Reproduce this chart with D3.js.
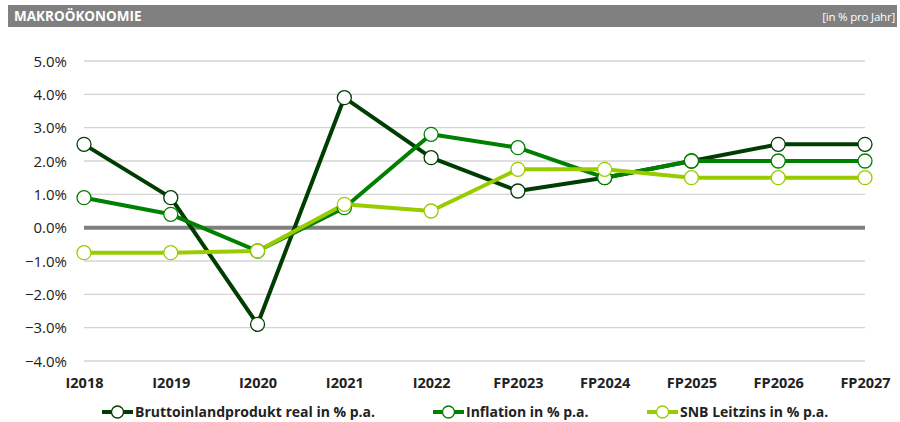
<!DOCTYPE html>
<html><head><meta charset="utf-8">
<script src="https://cdn.jsdelivr.net/npm/d3@7"></script>
<style>body{margin:0;background:#fff}svg{display:block}</style>
</head><body>
<svg id="c" width="900" height="422"></svg>
<script>
const categories = ["I2018","I2019","I2020","I2021","I2022","FP2023","FP2024","FP2025","FP2026","FP2027"];
const bip = [2.5, 0.9, -2.9, 3.9, 2.1, 1.1, 1.5, 2.0, 2.5, 2.5];
const inflation = [0.9, 0.4, -0.7, 0.6, 2.8, 2.4, 1.5, 2.0, 2.0, 2.0];
const snb = [-0.75, -0.75, -0.7, 0.7, 0.5, 1.75, 1.75, 1.5, 1.5, 1.5];
const yTicks = [5, 4, 3, 2, 1, 0, -1, -2, -3, -4];
const seriesNames = ["Bruttoinlandprodukt real in % p.a.", "Inflation in % p.a.", "SNB Leitzins in % p.a."];
const title = "MAKROÖKONOMIE";
const unitLabel = "[in % pro Jahr]";

const colors = ["#003d00", "#008000", "#99cc00"];
const series = [bip, inflation, snb];
const font = "'Open Sans', 'Liberation Sans', sans-serif";

const svg = d3.select("#c");
// header
svg.append("rect").attr("x",8).attr("y",5).attr("width",889).attr("height",22).attr("fill","#808080");
svg.append("text").attr("x",14).attr("y",21).attr("fill","#fff").attr("font-family",font)
  .attr("font-weight","bold").attr("font-size",13.5).text(title);
svg.append("text").attr("x",895).attr("y",20.5).attr("text-anchor","end").attr("fill","#fff")
  .attr("font-family",font).attr("font-size",11.5).attr("letter-spacing",-0.2).text(unitLabel);

const x = d3.scalePoint().domain(categories).range([84, 865]).padding(0);
const y = d3.scaleLinear().domain([-4, 5]).range([361, 61]);

// gridlines
svg.append("g").selectAll("line").data(yTicks.filter(d=>d!==0)).join("line")
  .attr("x1",84).attr("x2",865).attr("y1",d=>y(d)).attr("y2",d=>y(d))
  .attr("stroke","#d4d4d4").attr("stroke-width",1.3);

// y axis labels
const yAxis = d3.axisLeft(y).tickValues(yTicks).tickFormat(d=>d3.format(".1f")(d)+"%").tickSize(0).tickPadding(0);
const ga = svg.append("g").attr("transform","translate(67,0)").call(yAxis);
ga.select(".domain").remove();
ga.selectAll("text").attr("font-family",font).attr("font-size",15).attr("fill","#222").attr("dy","0.35em");

// zero line
svg.append("line").attr("x1",84).attr("x2",865).attr("y1",y(0)).attr("y2",y(0))
  .attr("stroke","#808080").attr("stroke-width",4);

// x axis labels
const xAxis = d3.axisBottom(x).tickSize(0).tickPadding(0);
const gx = svg.append("g").attr("transform","translate(0,377)").call(xAxis);
gx.select(".domain").remove();
gx.selectAll("text").attr("font-family",font).attr("font-size",14.5).attr("font-weight","bold").attr("fill","#222").attr("dy","0.75em");

// lines
const line = d3.line().x((d,i)=>x(categories[i])).y(d=>y(d));
series.forEach((s,k)=>{
  svg.append("path").datum(s).attr("d",line).attr("fill","none")
    .attr("stroke",colors[k]).attr("stroke-width",4).attr("stroke-linejoin","round");
});
series.forEach((s,k)=>{
  svg.append("g").selectAll("circle").data(s).join("circle")
    .attr("cx",(d,i)=>x(categories[i])).attr("cy",d=>y(d)).attr("r",7)
    .attr("fill","#fff").attr("stroke",colors[k]).attr("stroke-width",1.3);
});

// legend
const legX = [102, 433, 647];
const legY = 412;
seriesNames.forEach((n,k)=>{
  const g = svg.append("g").attr("transform",`translate(${legX[k]},${legY})`);
  g.append("line").attr("x1",0).attr("x2",31).attr("y1",0).attr("y2",0).attr("stroke",colors[k]).attr("stroke-width",4);
  g.append("circle").attr("cx",15.5).attr("cy",0).attr("r",6).attr("fill","#fff").attr("stroke",colors[k]).attr("stroke-width",1.3);
  g.append("text").attr("x",33).attr("y",0).attr("dy","0.35em").attr("font-family",font)
    .attr("font-size",14).attr("font-weight","bold").attr("fill","#222").text(n);
});
</script>
</body></html>
